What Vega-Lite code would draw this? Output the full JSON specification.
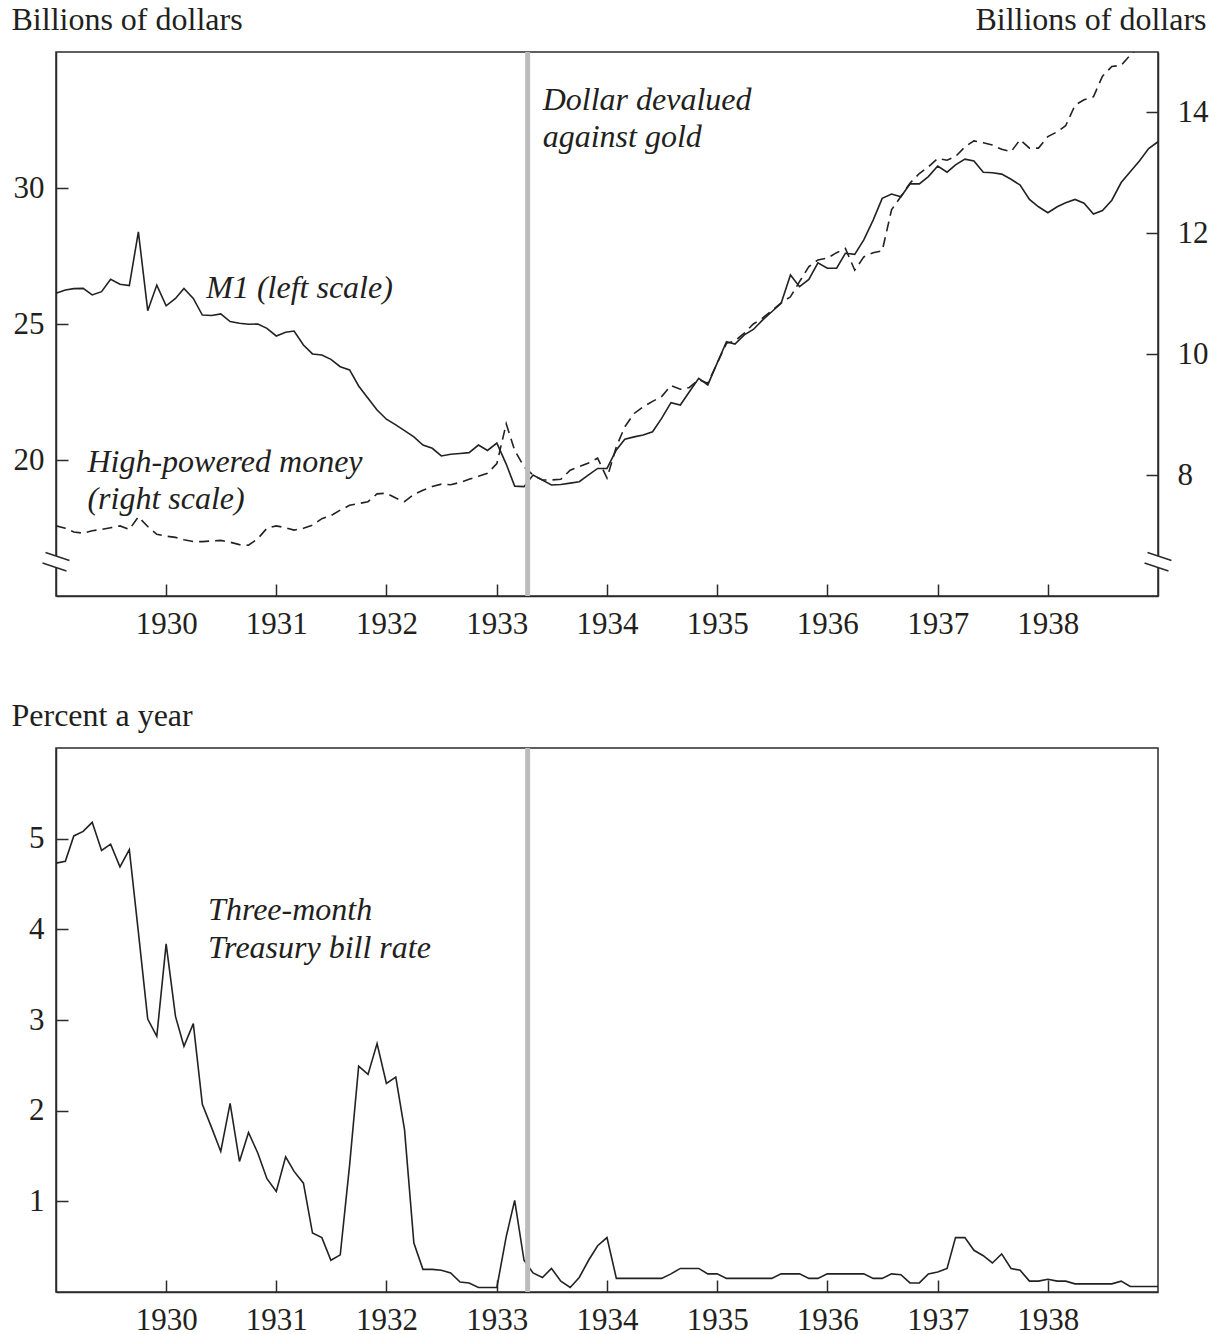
{
  "$schema": "https://vega.github.io/schema/vega-lite/v6.json",
  "background": "white",
  "padding": {"left": 10, "top": 2, "right": 5, "bottom": 5},
  "config": {
    "font": "Liberation Serif",
    "view": {"stroke": "#2b2b2b", "strokeWidth": 1.5},
    "axis": {
      "grid": false,
      "domainColor": "#2b2b2b",
      "domainWidth": 1.5,
      "tickColor": "#2b2b2b",
      "tickWidth": 1.5,
      "tickSize": -12,
      "labelFont": "Liberation Serif",
      "labelFontSize": 31,
      "labelColor": "#231f20",
      "titleFont": "Liberation Serif",
      "titleFontSize": 32,
      "titleFontWeight": "normal",
      "titleColor": "#231f20"
    }
  },
  "datasets": {
    "money": [
      {"date":"1929-01-01","m1":26.13,"hpm":7.16,"tbill":4.73},
      {"date":"1929-02-01","m1":26.25,"hpm":7.12,"tbill":4.75},
      {"date":"1929-03-01","m1":26.3,"hpm":7.06,"tbill":5.03},
      {"date":"1929-04-01","m1":26.31,"hpm":7.04,"tbill":5.08},
      {"date":"1929-05-01","m1":26.07,"hpm":7.08,"tbill":5.18},
      {"date":"1929-06-01","m1":26.19,"hpm":7.1,"tbill":4.87},
      {"date":"1929-07-01","m1":26.64,"hpm":7.13,"tbill":4.94},
      {"date":"1929-08-01","m1":26.46,"hpm":7.16,"tbill":4.69},
      {"date":"1929-09-01","m1":26.41,"hpm":7.1,"tbill":4.88},
      {"date":"1929-10-01","m1":28.39,"hpm":7.31,"tbill":3.97},
      {"date":"1929-11-01","m1":25.49,"hpm":7.15,"tbill":3.01},
      {"date":"1929-12-01","m1":26.43,"hpm":7.02,"tbill":2.82},
      {"date":"1930-01-01","m1":25.67,"hpm":6.99,"tbill":3.84},
      {"date":"1930-02-01","m1":25.94,"hpm":6.97,"tbill":3.04},
      {"date":"1930-03-01","m1":26.31,"hpm":6.93,"tbill":2.71},
      {"date":"1930-04-01","m1":25.94,"hpm":6.9,"tbill":2.96},
      {"date":"1930-05-01","m1":25.33,"hpm":6.9,"tbill":2.07},
      {"date":"1930-06-01","m1":25.31,"hpm":6.91,"tbill":1.81},
      {"date":"1930-07-01","m1":25.37,"hpm":6.92,"tbill":1.55},
      {"date":"1930-08-01","m1":25.09,"hpm":6.89,"tbill":2.08},
      {"date":"1930-09-01","m1":25.03,"hpm":6.85,"tbill":1.44},
      {"date":"1930-10-01","m1":24.99,"hpm":6.84,"tbill":1.76},
      {"date":"1930-11-01","m1":25.0,"hpm":6.95,"tbill":1.53},
      {"date":"1930-12-01","m1":24.84,"hpm":7.12,"tbill":1.25},
      {"date":"1931-01-01","m1":24.56,"hpm":7.16,"tbill":1.11},
      {"date":"1931-02-01","m1":24.7,"hpm":7.13,"tbill":1.49},
      {"date":"1931-03-01","m1":24.74,"hpm":7.09,"tbill":1.33},
      {"date":"1931-04-01","m1":24.23,"hpm":7.12,"tbill":1.2},
      {"date":"1931-05-01","m1":23.9,"hpm":7.17,"tbill":0.65},
      {"date":"1931-06-01","m1":23.86,"hpm":7.28,"tbill":0.6},
      {"date":"1931-07-01","m1":23.7,"hpm":7.33,"tbill":0.35},
      {"date":"1931-08-01","m1":23.43,"hpm":7.42,"tbill":0.41},
      {"date":"1931-09-01","m1":23.31,"hpm":7.5,"tbill":1.4},
      {"date":"1931-10-01","m1":22.72,"hpm":7.53,"tbill":2.49},
      {"date":"1931-11-01","m1":22.27,"hpm":7.56,"tbill":2.4},
      {"date":"1931-12-01","m1":21.84,"hpm":7.69,"tbill":2.74},
      {"date":"1932-01-01","m1":21.5,"hpm":7.7,"tbill":2.3},
      {"date":"1932-02-01","m1":21.29,"hpm":7.62,"tbill":2.37},
      {"date":"1932-03-01","m1":21.08,"hpm":7.56,"tbill":1.79},
      {"date":"1932-04-01","m1":20.85,"hpm":7.68,"tbill":0.54},
      {"date":"1932-05-01","m1":20.55,"hpm":7.75,"tbill":0.25},
      {"date":"1932-06-01","m1":20.43,"hpm":7.81,"tbill":0.25},
      {"date":"1932-07-01","m1":20.15,"hpm":7.85,"tbill":0.24},
      {"date":"1932-08-01","m1":20.21,"hpm":7.84,"tbill":0.21},
      {"date":"1932-09-01","m1":20.24,"hpm":7.88,"tbill":0.11},
      {"date":"1932-10-01","m1":20.27,"hpm":7.93,"tbill":0.1},
      {"date":"1932-11-01","m1":20.55,"hpm":7.98,"tbill":0.05},
      {"date":"1932-12-01","m1":20.35,"hpm":8.03,"tbill":0.05},
      {"date":"1933-01-01","m1":20.62,"hpm":8.19,"tbill":0.05},
      {"date":"1933-02-01","m1":19.85,"hpm":8.85,"tbill":0.61},
      {"date":"1933-03-01","m1":19.04,"hpm":8.41,"tbill":1.01},
      {"date":"1933-04-01","m1":19.02,"hpm":8.14,"tbill":0.35},
      {"date":"1933-05-01","m1":19.45,"hpm":8.0,"tbill":0.21},
      {"date":"1933-06-01","m1":19.26,"hpm":7.92,"tbill":0.16},
      {"date":"1933-07-01","m1":19.08,"hpm":7.92,"tbill":0.26},
      {"date":"1933-08-01","m1":19.1,"hpm":7.93,"tbill":0.12},
      {"date":"1933-09-01","m1":19.15,"hpm":8.08,"tbill":0.05},
      {"date":"1933-10-01","m1":19.2,"hpm":8.14,"tbill":0.16},
      {"date":"1933-11-01","m1":19.45,"hpm":8.2,"tbill":0.35},
      {"date":"1933-12-01","m1":19.69,"hpm":8.28,"tbill":0.51},
      {"date":"1934-01-01","m1":19.69,"hpm":7.95,"tbill":0.6},
      {"date":"1934-02-01","m1":20.37,"hpm":8.47,"tbill":0.15},
      {"date":"1934-03-01","m1":20.76,"hpm":8.8,"tbill":0.15},
      {"date":"1934-04-01","m1":20.85,"hpm":9.02,"tbill":0.15},
      {"date":"1934-05-01","m1":20.92,"hpm":9.13,"tbill":0.15},
      {"date":"1934-06-01","m1":21.04,"hpm":9.22,"tbill":0.15},
      {"date":"1934-07-01","m1":21.53,"hpm":9.3,"tbill":0.15},
      {"date":"1934-08-01","m1":22.11,"hpm":9.48,"tbill":0.2},
      {"date":"1934-09-01","m1":22.02,"hpm":9.42,"tbill":0.26},
      {"date":"1934-10-01","m1":22.51,"hpm":9.45,"tbill":0.26},
      {"date":"1934-11-01","m1":23.0,"hpm":9.58,"tbill":0.26},
      {"date":"1934-12-01","m1":22.76,"hpm":9.52,"tbill":0.2},
      {"date":"1935-01-01","m1":23.56,"hpm":9.85,"tbill":0.2},
      {"date":"1935-02-01","m1":24.35,"hpm":10.18,"tbill":0.15},
      {"date":"1935-03-01","m1":24.26,"hpm":10.22,"tbill":0.15},
      {"date":"1935-04-01","m1":24.6,"hpm":10.35,"tbill":0.15},
      {"date":"1935-05-01","m1":24.8,"hpm":10.5,"tbill":0.15},
      {"date":"1935-06-01","m1":25.15,"hpm":10.6,"tbill":0.15},
      {"date":"1935-07-01","m1":25.45,"hpm":10.72,"tbill":0.15},
      {"date":"1935-08-01","m1":25.76,"hpm":10.85,"tbill":0.2},
      {"date":"1935-09-01","m1":26.8,"hpm":10.95,"tbill":0.2},
      {"date":"1935-10-01","m1":26.37,"hpm":11.2,"tbill":0.2},
      {"date":"1935-11-01","m1":26.64,"hpm":11.45,"tbill":0.15},
      {"date":"1935-12-01","m1":27.25,"hpm":11.56,"tbill":0.15},
      {"date":"1936-01-01","m1":27.05,"hpm":11.59,"tbill":0.2},
      {"date":"1936-02-01","m1":27.05,"hpm":11.68,"tbill":0.2},
      {"date":"1936-03-01","m1":27.6,"hpm":11.75,"tbill":0.2},
      {"date":"1936-04-01","m1":27.56,"hpm":11.39,"tbill":0.2},
      {"date":"1936-05-01","m1":28.09,"hpm":11.61,"tbill":0.2},
      {"date":"1936-06-01","m1":28.82,"hpm":11.68,"tbill":0.15},
      {"date":"1936-07-01","m1":29.62,"hpm":11.71,"tbill":0.15},
      {"date":"1936-08-01","m1":29.78,"hpm":12.39,"tbill":0.2},
      {"date":"1936-09-01","m1":29.68,"hpm":12.61,"tbill":0.19},
      {"date":"1936-10-01","m1":30.15,"hpm":12.83,"tbill":0.1},
      {"date":"1936-11-01","m1":30.15,"hpm":12.99,"tbill":0.1},
      {"date":"1936-12-01","m1":30.42,"hpm":13.1,"tbill":0.2},
      {"date":"1937-01-01","m1":30.81,"hpm":13.24,"tbill":0.22},
      {"date":"1937-02-01","m1":30.58,"hpm":13.21,"tbill":0.26},
      {"date":"1937-03-01","m1":30.85,"hpm":13.27,"tbill":0.6},
      {"date":"1937-04-01","m1":31.06,"hpm":13.43,"tbill":0.6},
      {"date":"1937-05-01","m1":30.99,"hpm":13.53,"tbill":0.46},
      {"date":"1937-06-01","m1":30.58,"hpm":13.5,"tbill":0.4},
      {"date":"1937-07-01","m1":30.56,"hpm":13.46,"tbill":0.32},
      {"date":"1937-08-01","m1":30.51,"hpm":13.39,"tbill":0.42},
      {"date":"1937-09-01","m1":30.32,"hpm":13.35,"tbill":0.26},
      {"date":"1937-10-01","m1":30.11,"hpm":13.55,"tbill":0.24},
      {"date":"1937-11-01","m1":29.58,"hpm":13.41,"tbill":0.12},
      {"date":"1937-12-01","m1":29.31,"hpm":13.41,"tbill":0.12},
      {"date":"1938-01-01","m1":29.09,"hpm":13.6,"tbill":0.14},
      {"date":"1938-02-01","m1":29.31,"hpm":13.68,"tbill":0.12},
      {"date":"1938-03-01","m1":29.46,"hpm":13.78,"tbill":0.12},
      {"date":"1938-04-01","m1":29.58,"hpm":14.12,"tbill":0.09},
      {"date":"1938-05-01","m1":29.44,"hpm":14.21,"tbill":0.09},
      {"date":"1938-06-01","m1":29.04,"hpm":14.26,"tbill":0.09},
      {"date":"1938-07-01","m1":29.17,"hpm":14.6,"tbill":0.09},
      {"date":"1938-08-01","m1":29.55,"hpm":14.76,"tbill":0.09},
      {"date":"1938-09-01","m1":30.2,"hpm":14.78,"tbill":0.12},
      {"date":"1938-10-01","m1":30.6,"hpm":14.95,"tbill":0.06},
      {"date":"1938-11-01","m1":31.0,"hpm":15.1,"tbill":0.06},
      {"date":"1938-12-01","m1":31.45,"hpm":15.2,"tbill":0.06},
      {"date":"1939-01-01","m1":31.7,"hpm":15.3,"tbill":0.06}
    ],
    "notesTop": [
      {"date":"1933-06-02","m1":32.87,"label":"Dollar devalued\nagainst gold"},
      {"date":"1930-05-14","m1":25.94,"label":"M1 (left scale)"},
      {"date":"1929-04-15","m1":19.57,"label":"High-powered money\n(right scale)"}
    ],
    "notesBottom": [
      {"date":"1930-05-20","tbill":4.1,"label":"Three-month\nTreasury bill rate"}
    ],
    "breaks": [
      {"date":"1929-01-01","m1":16.25},
      {"date":"1939-01-01","m1":16.25}
    ],
    "devalue": [
      {"date":"1933-04-13"}
    ]
  },
  "spacing": 152,
  "bounds": "flush",
  "vconcat": [
    {
      "width": 1102,
      "height": 544,
      "layer": [
        {
          "layer": [
            {
              "data": {"name": "money"},
              "mark": {"type": "line", "color": "#222222", "strokeWidth": 1.6},
              "encoding": {
                "x": {"field": "date", "type": "temporal",
                  "scale": {"type": "utc", "domain": [{"year":1929,"month":1,"date":1,"utc":true},{"year":1939,"month":1,"date":1,"utc":true}]},
                  "axis": {"title": null, "format": "%Y", "labelPadding": 25, "labelFlush": false, "labelOverlap": false,
                    "values": [{"year":1930,"month":1,"date":1,"utc":true},{"year":1931,"month":1,"date":1,"utc":true},{"year":1932,"month":1,"date":1,"utc":true},{"year":1933,"month":1,"date":1,"utc":true},{"year":1934,"month":1,"date":1,"utc":true},{"year":1935,"month":1,"date":1,"utc":true},{"year":1936,"month":1,"date":1,"utc":true},{"year":1937,"month":1,"date":1,"utc":true},{"year":1938,"month":1,"date":1,"utc":true}]}},
                "y": {"field": "m1", "type": "quantitative", "scale": {"domain": [15, 35], "nice": false, "zero": false},
                  "axis": {"orient": "left", "values": [20, 25, 30], "format": "d", "title": "Billions of dollars", "titleAngle": 0, "titleAlign": "left", "titleBaseline": "alphabetic", "titleX": -45, "titleY": -23, "labelPadding": 24}}
              }
            },
            {
              "data": {"name": "breaks"},
              "mark": {"type": "point", "shape": "M-0.875,-0.79L1.125,-0.125L0.875,0.75L-1.125,0.083Z", "filled": true, "color": "white", "strokeWidth": 0, "size": 576, "opacity": 1, "clip": false},
              "encoding": {
                "x": {"field": "date", "type": "temporal", "scale": {"type": "utc", "domain": [{"year":1929,"month":1,"date":1,"utc":true},{"year":1939,"month":1,"date":1,"utc":true}]}},
                "y": {"field": "m1", "type": "quantitative"}
              }
            },
            {
              "data": {"name": "breaks"},
              "mark": {"type": "point", "shape": "M-0.875,-0.79L1.125,-0.125M-1.125,0.083L0.875,0.75", "filled": false, "color": "#2b2b2b", "strokeWidth": 1.5, "size": 576, "opacity": 1, "clip": false},
              "encoding": {
                "x": {"field": "date", "type": "temporal", "scale": {"type": "utc", "domain": [{"year":1929,"month":1,"date":1,"utc":true},{"year":1939,"month":1,"date":1,"utc":true}]}},
                "y": {"field": "m1", "type": "quantitative"}
              }
            },
            {
              "data": {"name": "notesTop"},
              "mark": {"type": "text", "align": "left", "baseline": "alphabetic", "fontStyle": "italic", "fontSize": 32, "lineBreak": "\n", "lineHeight": 37.5, "color": "#231f20"},
              "encoding": {
                "x": {"field": "date", "type": "temporal", "scale": {"type": "utc", "domain": [{"year":1929,"month":1,"date":1,"utc":true},{"year":1939,"month":1,"date":1,"utc":true}]}},
                "y": {"field": "m1", "type": "quantitative"},
                "text": {"field": "label"}
              }
            }
          ]
        },
        {
          "layer": [
            {
              "data": {"name": "money"},
              "mark": {"type": "line", "color": "#222222", "strokeWidth": 1.6, "strokeDash": [10, 6], "clip": true},
              "encoding": {
                "x": {"field": "date", "type": "temporal", "scale": {"type": "utc", "domain": [{"year":1929,"month":1,"date":1,"utc":true},{"year":1939,"month":1,"date":1,"utc":true}]}},
                "y": {"field": "hpm", "type": "quantitative", "scale": {"domain": [6, 15], "nice": false, "zero": false},
                  "axis": {"orient": "right", "values": [8, 10, 12, 14], "format": "d", "title": "Billions of dollars", "titleAngle": 0, "titleAlign": "right", "titleBaseline": "alphabetic", "titleX": 48, "titleY": -23, "labelPadding": 31}}
              }
            }
          ]
        },
        {
          "data": {"name": "devalue"},
          "mark": {"type": "rule", "color": "#bcbcbc", "strokeWidth": 5},
          "encoding": {
            "x": {"field": "date", "type": "temporal", "scale": {"type": "utc", "domain": [{"year":1929,"month":1,"date":1,"utc":true},{"year":1939,"month":1,"date":1,"utc":true}]}}
          }
        }
      ],
      "resolve": {"scale": {"y": "independent"}, "axis": {"y": "independent"}}
    },
    {
      "width": 1102,
      "height": 544,
      "layer": [
        {
          "data": {"name": "money"},
          "mark": {"type": "line", "color": "#222222", "strokeWidth": 1.6},
          "encoding": {
            "x": {"field": "date", "type": "temporal",
              "scale": {"type": "utc", "domain": [{"year":1929,"month":1,"date":1,"utc":true},{"year":1939,"month":1,"date":1,"utc":true}]},
              "axis": {"title": null, "format": "%Y", "labelPadding": 25, "labelFlush": false, "labelOverlap": false,
                "values": [{"year":1930,"month":1,"date":1,"utc":true},{"year":1931,"month":1,"date":1,"utc":true},{"year":1932,"month":1,"date":1,"utc":true},{"year":1933,"month":1,"date":1,"utc":true},{"year":1934,"month":1,"date":1,"utc":true},{"year":1935,"month":1,"date":1,"utc":true},{"year":1936,"month":1,"date":1,"utc":true},{"year":1937,"month":1,"date":1,"utc":true},{"year":1938,"month":1,"date":1,"utc":true}]}},
            "y": {"field": "tbill", "type": "quantitative", "scale": {"domain": [0, 6], "nice": false},
              "axis": {"orient": "left", "values": [1, 2, 3, 4, 5], "format": "d", "title": "Percent a year", "titleAngle": 0, "titleAlign": "left", "titleBaseline": "alphabetic", "titleX": -45, "titleY": -23, "labelPadding": 24}}
          }
        },
        {
          "data": {"name": "notesBottom"},
          "mark": {"type": "text", "align": "left", "baseline": "alphabetic", "fontStyle": "italic", "fontSize": 32, "lineBreak": "\n", "lineHeight": 37.5, "color": "#231f20"},
          "encoding": {
            "x": {"field": "date", "type": "temporal", "scale": {"type": "utc", "domain": [{"year":1929,"month":1,"date":1,"utc":true},{"year":1939,"month":1,"date":1,"utc":true}]}},
            "y": {"field": "tbill", "type": "quantitative"},
            "text": {"field": "label"}
          }
        },
        {
          "data": {"name": "devalue"},
          "mark": {"type": "rule", "color": "#bcbcbc", "strokeWidth": 5},
          "encoding": {
            "x": {"field": "date", "type": "temporal", "scale": {"type": "utc", "domain": [{"year":1929,"month":1,"date":1,"utc":true},{"year":1939,"month":1,"date":1,"utc":true}]}}
          }
        }
      ]
    }
  ]
}
